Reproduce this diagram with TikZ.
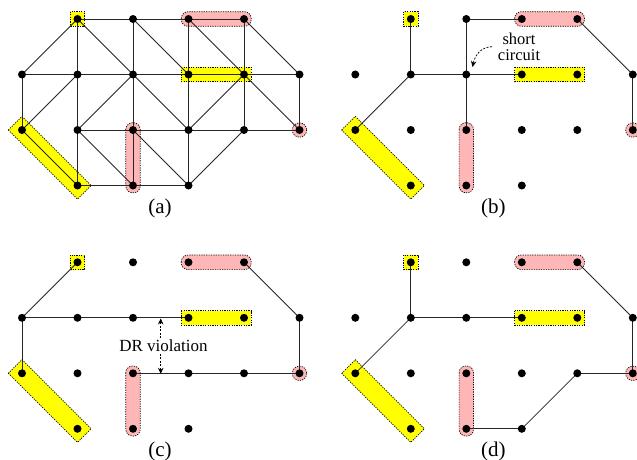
\documentclass[tikz,border=0pt]{standalone}
\usepackage{fontspec}
\setmainfont{Liberation Serif}
\usetikzlibrary{arrows.meta}
\pgfdeclarelayer{hl}
\pgfdeclarelayer{wires}
\pgfsetlayers{hl,wires,main}
\definecolor{hlyellow}{RGB}{255,255,0}
\definecolor{hlpink}{RGB}{255,182,182}
\tikzset{
  pin/.style={circle,fill=black,inner sep=0pt,minimum size=8pt},
  wire/.style={draw=black!85,line width=0.8pt},
  ybox/.style={fill=hlyellow,draw=black,line width=0.7pt,dash pattern=on 1.2pt off 1.2pt},
  pbox/.style={ybox,fill=hlpink,rounded corners=6.8pt},
  caption/.style={font=\fontsize{21}{23}\selectfont},
  note/.style={font=\fontsize{17}{15}\selectfont,align=center},
  shortnote/.style={font=\fontsize{16.5}{15.5}\selectfont,align=center},
  marker/.style={black,line width=0.75pt,dash pattern=on 2pt off 1.5pt}
}
% panel: name, x offset, y offset, caption
\newcommand\panel[4]{%
  \foreach \c/\r in {1/0,2/0,3/0,4/0,0/1,1/1,2/1,3/1,4/1,5/1,0/2,1/2,2/2,3/2,4/2,5/2,1/3,2/3,3/3}{
    \pgfmathsetmacro\px{#2+22+55.5*\c}
    \pgfmathsetmacro\py{#3+19+55.5*\r}
    \node[pin] (#1\c\r) at (\px,\py) {};
  }
  \node[caption] (#1cap) at (#2+160,#3+208) {(#4)};
  \begin{pgfonlayer}{hl}
    \path[ybox] ([shift={(-7.2,-7.2)}]#110.center) rectangle ([shift={(7.2,7.2)}]#110.center);
    \path[ybox] ([shift={(-7.2,-7.3)}]#131.center) rectangle ([shift={(7.2,7.3)}]#141.center);
    \path[ybox] ([shift={(-13.6,0)}]#102.center) -- ([shift={(0,-13.6)}]#102.center)
      -- ([shift={(13.6,0)}]#113.center) -- ([shift={(0,13.6)}]#113.center) -- cycle;
    \path[pbox] ([shift={(-7.2,-7.3)}]#130.center) rectangle ([shift={(7.2,7.3)}]#140.center);
    \path[pbox] ([shift={(-7.2,-7.3)}]#122.center) rectangle ([shift={(7.2,7.3)}]#123.center);
    \path[ybox,fill=hlpink] (#152.center) circle[radius=7.2];
  \end{pgfonlayer}
}
\newcommand\wires[2]{%
  \begin{pgfonlayer}{wires}
    \foreach \p/\q in {#2}{\draw[wire] (#1\p.center) -- (#1\q.center);}
  \end{pgfonlayer}
}
\begin{document}
\begin{tikzpicture}[x=1pt,y=-1pt]
\useasboundingbox (0,0) rectangle (637,460);
\panel{a}{0}{0}{a}
\panel{b}{333.3}{0}{b}
\panel{c}{0}{243.3}{c}
\panel{d}{333.3}{243.3}{d}
% (a)
\wires{a}{10/20,20/30,30/40,
 01/11,11/21,21/31,31/41,41/51,
 12/22,22/32,32/42,42/52,
 13/23,23/33,
 10/11,11/12,12/13,20/21,21/22,22/23,30/31,31/32,32/33,40/41,41/42,01/02,51/52,
 10/21,20/31,30/41,40/51,21/32,41/52,12/23,22/33,02/13,
 10/01,11/02,21/12,41/32,42/33}
% (b)
\wires{b}{10/11,11/02,11/21,21/31,20/21,20/30,21/22,40/51,51/52}
\coordinate (scfrom) at (492,46.7);
\coordinate (scto) at (472.5,67);
\node[shortnote] (sc) at (519,47) {short\\circuit};
\draw[marker,-{Stealth[length=6pt,width=5.5pt]}] (scfrom) .. controls (481,47) and (475,55) .. (scto);
% (c)
\wires{c}{10/01,01/11,11/21,21/31,01/02,40/51,51/52,22/32,32/42,42/52}
\coordinate (drtop) at (160.7,318.5);
\coordinate (drbot) at (160.7,373.8);
\begin{pgfonlayer}{wires}
\draw[marker,{Stealth[length=6pt,width=5.5pt]}-{Stealth[length=6pt,width=5.5pt]}] (drtop) -- (drbot);
\end{pgfonlayer}
\node[note,fill=white,inner sep=1pt] (dr) at (163.5,345.5) {DR violation};
% (d)
\wires{d}{10/11,11/02,11/21,21/31,40/51,51/52,52/42,42/33,33/23}
\end{tikzpicture}
\end{document}
